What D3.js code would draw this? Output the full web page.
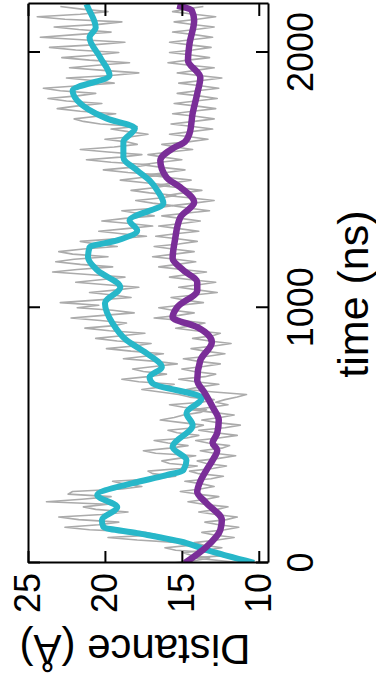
<!DOCTYPE html>
<html>
<head>
<meta charset="utf-8">
<script src="https://cdn.jsdelivr.net/npm/d3@7/dist/d3.min.js"></script>
<style>
  html, body { margin: 0; padding: 0; background: #fff; }
  svg { display: block; }
</style>
</head>
<body>
<div id="chart"></div>
<script>
// time ticks (ns) and distance ticks (Å)
const timeTicks = [0, 1000, 2000];
const distTicks = [10, 15, 20, 25];

// raw trajectories, one value every RAW_STEP ns
const RAW_STEP = 10;
const rawA = [
  11.0, 12.6, 14.2, 12.1, 13.0, 15.4, 16.1, 14.3, 15.2, 17.9, 19.8, 16.6, 17.4, 21.0, 22.6, 20.4, 19.1, 21.7, 23.0, 20.2,
  18.5, 20.6, 21.4, 19.8, 23.8, 21.5, 19.6, 22.4, 22.1, 18.9, 17.6, 18.8, 19.5, 16.7, 15.4, 16.9, 17.2, 15.1, 14.0, 15.8,
  16.3, 15.2, 14.1, 16.7, 17.5, 15.8, 14.6, 15.9, 16.8, 14.7, 13.9, 15.3, 15.9, 14.2, 13.6, 15.0, 16.4, 15.5, 14.9, 13.8,
  13.4, 14.9, 15.8, 13.7, 12.9, 14.5, 15.2, 16.4, 17.6, 16.3, 15.5, 17.8, 18.9, 17.2, 16.0, 17.5, 18.2, 16.8, 15.3, 16.7,
  18.8, 17.4, 16.2, 18.3, 19.9, 18.1, 17.0, 19.2, 20.6, 18.9, 17.4, 19.7, 21.3, 19.4, 18.6, 20.3, 22.2, 20.1, 18.1, 19.5,
  21.8, 20.4, 22.9, 20.6, 18.3, 19.5, 21.0, 19.2, 17.8, 19.9, 21.9, 20.3, 18.7, 21.1, 23.4, 21.8, 19.5, 21.6, 23.2, 22.0,
  19.8, 22.1, 23.0, 21.4, 19.2, 20.6, 21.6, 19.3, 17.3, 18.9, 20.4, 18.6, 16.9, 18.4, 20.2, 18.7, 16.8, 17.9, 18.9, 16.8,
  15.6, 16.9, 18.0, 16.4, 15.4, 17.1, 18.3, 16.8, 15.8, 17.4, 19.0, 17.6, 16.2, 18.5, 20.1, 18.3, 17.1, 19.6, 21.2, 19.0,
  17.6, 19.8, 21.6, 19.4, 17.9, 18.6, 20.0, 18.3, 17.2, 18.5, 19.6, 17.9, 20.3, 21.4, 22.0, 20.5, 19.3, 21.6, 23.1, 21.9,
  20.2, 22.5, 23.7, 21.8, 20.6, 22.9, 24.0, 21.7, 19.4, 20.8, 22.5, 19.6, 17.8, 20.1, 22.3, 20.5, 18.4, 21.0, 22.8, 20.6,
  19.1, 21.9, 23.6, 20.8, 18.7, 21.5, 24.2, 21.9, 19.6, 21.7, 23.3, 20.4, 18.9, 22.6, 24.4, 21.6, 19.8, 21.5, 22.9
];
const rawB = [
  15.6, 14.1, 13.2, 14.4, 14.9, 13.5, 12.4, 13.6, 14.2, 12.7, 11.6, 12.9, 13.7, 12.2, 11.3, 12.6, 13.5, 12.1, 11.4, 12.8,
  13.9, 12.7, 12.0, 13.6, 14.6, 13.4, 12.6, 14.0, 15.1, 13.8, 12.9, 13.7, 14.8, 13.1, 12.3, 13.9, 14.5, 13.0, 12.1, 13.4,
  14.0, 12.6, 11.5, 12.9, 13.8, 12.4, 11.9, 13.3, 14.1, 12.6, 11.4, 12.8, 13.9, 12.2, 11.2, 12.7, 13.7, 12.5, 11.6, 13.0,
  14.3, 13.1, 12.0, 12.8, 12.2, 11.4, 10.8, 12.9, 14.7, 13.8, 12.6, 14.1, 15.2, 13.5, 12.8, 14.2, 15.0, 13.6, 12.5, 13.9,
  14.9, 13.3, 12.2, 13.5, 14.4, 12.9, 11.8, 13.2, 14.3, 13.0, 12.5, 14.1, 15.4, 14.3, 13.5, 15.0, 16.8, 15.2, 14.2, 15.6,
  16.5, 15.1, 13.6, 14.8, 15.7, 14.2, 12.7, 14.0, 15.2, 13.9, 12.8, 14.4, 15.8, 14.6, 13.4, 15.0, 16.5, 15.3, 14.1, 15.4,
  16.9, 15.5, 14.2, 15.6, 16.8, 15.2, 14.0, 15.3, 16.7, 15.4, 13.9, 15.2, 16.5, 15.0, 13.8, 15.1, 16.3, 14.8, 13.2, 14.5,
  15.6, 14.2, 12.9, 14.4, 16.0, 14.9, 13.7, 15.2, 16.6, 15.5, 14.4, 15.9, 17.3, 16.0, 14.8, 16.3, 17.6, 16.4, 15.0, 16.2,
  17.2, 15.8, 14.3, 15.4, 16.3, 14.6, 13.3, 14.5, 15.8, 14.4, 13.0, 14.3, 15.7, 14.2, 12.9, 14.1, 15.6, 14.3, 12.8, 14.0,
  15.5, 14.1, 12.7, 13.9, 15.3, 14.0, 12.6, 13.8, 15.2, 13.7, 12.4, 13.9, 15.3, 14.1, 12.9, 14.5, 15.9, 14.6, 13.2, 14.4,
  15.8, 14.3, 13.1, 14.5, 15.8, 14.4, 13.0, 14.2, 15.6, 14.1, 12.9, 14.3, 15.5, 14.0, 12.8, 14.2, 15.6, 14.8, 13.6
];

// running averages, [time ns, distance Å]
const smoothA = [
  [0, 10.3], [51, 13.4], [78, 14.7], [117, 17.9], [141, 20.1], [168, 20.2],
  [219, 19.2], [266, 20.5], [313, 18.2], [344, 16.0], [364, 14.9], [403, 14.7],
  [454, 15.6], [540, 14.3], [587, 14.7], [646, 13.7], [704, 16.9], [728, 17.1],
  [767, 16.3], [822, 17.3], [873, 18.6], [939, 19.5], [1018, 20.0], [1080, 19.0],
  [1147, 20.5], [1198, 21.1], [1237, 21.0], [1264, 19.2], [1303, 17.9], [1342, 18.4],
  [1409, 16.2], [1460, 16.6], [1499, 17.1], [1538, 17.9], [1589, 18.8], [1650, 18.8],
  [1703, 18.05], [1742, 19.9], [1812, 21.8], [1851, 22.1], [1910, 19.7], [1980, 20.3],
  [2059, 21.0], [2098, 20.6], [2176, 21.1], [2190, 21.2]
];
const smoothB = [
  [0, 14.8], [63, 13.4], [129, 12.5], [168, 12.4], [235, 13.4], [278, 14.0],
  [320, 13.8], [364, 13.4], [403, 13.0], [442, 12.7], [470, 13.0], [509, 12.7],
  [560, 12.6], [611, 13.0], [665, 13.5], [716, 14.0], [794, 13.8], [865, 13.05],
  [924, 14.0], [963, 15.6], [1002, 15.3], [1068, 14.0], [1100, 14.0], [1147, 14.9],
  [1194, 15.6], [1264, 15.45], [1354, 15.1], [1413, 14.2], [1472, 15.1], [1511, 16.0],
  [1577, 16.4], [1624, 15.6], [1650, 14.8], [1683, 14.5], [1761, 14.3], [1839, 14.0],
  [1902, 13.8], [1969, 14.6], [2035, 14.5], [2125, 14.2], [2164, 14.35], [2184, 15.3]
];

const W = 680, H = 376;   // chart drawn sideways, then turned
const margin = { top: 28, right: 4, bottom: 108, left: 117 };
const innerW = W - margin.left - margin.right;
const innerH = H - margin.top - margin.bottom;
const font = '"Liberation Sans", Arial, Helvetica, sans-serif';

const svg = d3.select('#chart').append('svg')
  .attr('width', 376)
  .attr('height', 680);

// rotate the whole chart 90° counter-clockwise
const root = svg.append('g')
  .attr('transform', `translate(0,${W}) rotate(-90)`);

const g = root.append('g')
  .attr('transform', `translate(${margin.left},${margin.top})`);

const x = d3.scaleLinear().domain([0, 2190]).range([0, innerW]);
const y = d3.scaleLinear().domain([9.4, 25]).range([innerH, 0]);

g.append('clipPath').attr('id', 'plot-clip')
  .append('rect').attr('width', innerW).attr('height', innerH);

const plot = g.append('g').attr('clip-path', 'url(#plot-clip)');

const rawLine = d3.line()
  .x((d, i) => x(i * RAW_STEP))
  .y(d => y(d));

[rawA, rawB].forEach(series => {
  plot.append('path')
    .datum(series)
    .attr('fill', 'none')
    .attr('stroke', '#ababab')
    .attr('stroke-width', 1.6)
    .attr('stroke-linejoin', 'round')
    .attr('d', rawLine);
});

const smoothLine = d3.line()
  .x(d => x(d[0]))
  .y(d => y(d[1]))
  .curve(d3.curveMonotoneX);

plot.append('path')
  .datum(smoothA)
  .attr('fill', 'none')
  .attr('stroke', '#27b7c9')
  .attr('stroke-width', 6)
  .attr('stroke-linejoin', 'round')
  .attr('d', smoothLine);

plot.append('path')
  .datum(smoothB)
  .attr('fill', 'none')
  .attr('stroke', '#7a2e98')
  .attr('stroke-width', 6.5)
  .attr('stroke-linejoin', 'round')
  .attr('d', smoothLine);

// axes, ticks pointing inwards on all four sides
const styleAxis = sel => {
  sel.select('.domain').attr('stroke', '#000').attr('stroke-width', 2);
  sel.selectAll('.tick line').attr('stroke', '#000').attr('stroke-width', 2);
  sel.selectAll('text')
    .style('font-family', font)
    .style('font-size', '36px')
    .attr('fill', '#000');
};

g.append('g')
  .attr('transform', `translate(0,${innerH})`)
  .call(d3.axisBottom(x).tickValues(timeTicks).tickFormat(d3.format('d'))
    .tickSizeInner(-12).tickSizeOuter(0).tickPadding(19))
  .call(styleAxis);

g.append('g')
  .call(d3.axisTop(x).tickValues(timeTicks).tickSizeInner(-12).tickSizeOuter(0).tickFormat(''))
  .call(styleAxis);

g.append('g')
  .call(d3.axisLeft(y).tickValues(distTicks).tickFormat(d3.format('d'))
    .tickSizeInner(-12).tickSizeOuter(0).tickPadding(10))
  .call(styleAxis);

g.append('g')
  .attr('transform', `translate(${innerW},0)`)
  .call(d3.axisRight(y).tickValues(distTicks).tickSizeInner(-12).tickSizeOuter(0).tickFormat(''))
  .call(styleAxis);

// axis titles
g.append('text')
  .attr('x', 269)
  .attr('y', 340)
  .attr('text-anchor', 'middle')
  .style('font-family', font)
  .style('font-size', '43px')
  .text('time (ns)');

g.append('text')
  .attr('transform', 'translate(-72,107) rotate(-90)')
  .attr('text-anchor', 'middle')
  .style('font-family', font)
  .style('font-size', '42px')
  .text('Distance (Å)');
</script>
</body>
</html>
